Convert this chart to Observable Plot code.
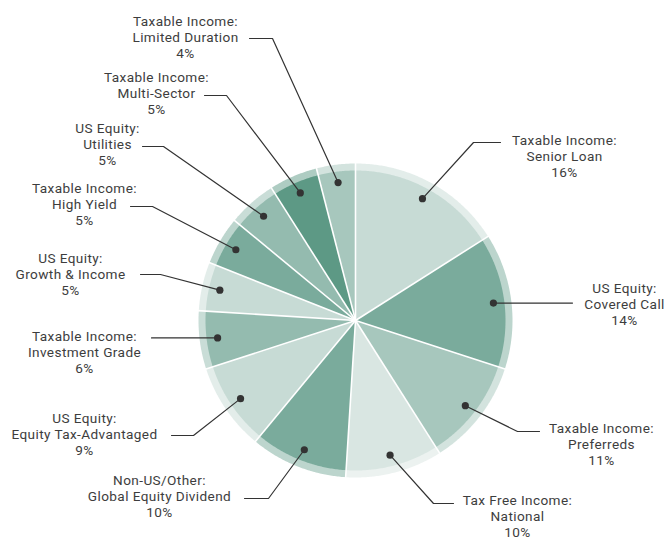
<!DOCTYPE html>
<html><head><meta charset="utf-8">
<script src="https://cdn.jsdelivr.net/npm/d3@7"></script>
<script src="https://cdn.jsdelivr.net/npm/@observablehq/plot@0.6"></script>
<style>html,body{margin:0;padding:0;background:#fff;} #chart svg{display:block}</style>
</head><body><div id="chart"></div>
<script>
// ---- data ----
const groups = ["Taxable Income:", "US Equity:", "Taxable Income:", "Tax Free Income:", "Non-US/Other:", "US Equity:",
  "Taxable Income:", "US Equity:", "Taxable Income:", "US Equity:", "Taxable Income:", "Taxable Income:"];
const names = ["Senior Loan", "Covered Call", "Preferreds", "National", "Global Equity Dividend", "Equity Tax-Advantaged",
  "Investment Grade", "Growth & Income", "High Yield", "Utilities", "Multi-Sector", "Limited Duration"];
const shares = [16, 14, 11, 10, 10, 9, 6, 5, 5, 5, 5, 4];

// ---- styles ----
const fills = ["#c7dbd5", "#7aab9c", "#a7c7bd", "#d9e6e2", "#7aab9c", "#c7dbd5",
  "#94bbaf", "#c7dbd5", "#7aab9c", "#94bbaf", "#5d9985", "#a7c7bd"];

// ---- layout (pixel space) ----
const W = 666, H = 540, cx = 355, cy = 320, rOuter = 157, rInner = 150, rDot = 139;
// text centre x, middle-line y, leader end x, elbow x (null = straight), leader y
const labelLayout = [
  {tx: 564, ty: 155, endX: 500, elbowX: 473, lineY: 142},
  {tx: 624, ty: 303, endX: 572, elbowX: null, lineY: null},
  {tx: 601, ty: 443, endX: 539, elbowX: 517, lineY: 431},
  {tx: 517, ty: 515, endX: 453, elbowX: 433, lineY: 503},
  {tx: 159, ty: 495, endX: 244, elbowX: 268, lineY: 498},
  {tx: 84,  ty: 433, endX: 171, elbowX: 193, lineY: 435},
  {tx: 84,  ty: 351, endX: 151, elbowX: null, lineY: null},
  {tx: 70,  ty: 273, endX: 140, elbowX: 160, lineY: 274},
  {tx: 84,  ty: 203, endX: 130, elbowX: 152, lineY: 206},
  {tx: 107, ty: 143, endX: 142, elbowX: 163, lineY: 146},
  {tx: 156, ty: 92,  endX: 204, elbowX: 226, lineY: 95},
  {tx: 185, ty: 36,  endX: 249, elbowX: 272, lineY: 38}
];

const total = d3.sum(shares);
const slices = [];
let acc = 0;
shares.forEach((v, i) => {
  const a0 = acc / total * 2 * Math.PI; acc += v;
  const a1 = acc / total * 2 * Math.PI;
  slices.push({i, a0, a1, mid: (a0 + a1) / 2});
});
const px = (a, r) => cx + r * Math.sin(a);
const py = (a, r) => cy - r * Math.cos(a);
function arcPts(s, r) {
  const pts = [{x: cx, y: cy}];
  const n = Math.max(2, Math.ceil((s.a1 - s.a0) / (Math.PI / 360)));
  for (let k = 0; k <= n; k++) {
    const a = s.a0 + (s.a1 - s.a0) * k / n;
    pts.push({x: px(a, r), y: py(a, r)});
  }
  return pts;
}
const dotX = s => px(s.mid, rDot), dotY = s => py(s.mid, rDot);

const leaders = [];
slices.forEach(s => {
  const L = labelLayout[s.i];
  const dx = dotX(s), dy = dotY(s);
  if (L.elbowX == null) {
    leaders.push({i: s.i, x: L.endX, y: dy}, {i: s.i, x: dx, y: dy});
  } else {
    leaders.push({i: s.i, x: L.endX, y: L.lineY}, {i: s.i, x: L.elbowX, y: L.lineY}, {i: s.i, x: dx, y: dy});
  }
});

const fs = 13.6;
const chart = Plot.plot({
  width: W, height: H, margin: 0,
  x: {domain: [0, W], range: [0, W], axis: null},
  y: {domain: [0, H], range: [0, H], axis: null},
  style: {fontFamily: "Roboto, sans-serif", background: "#fff", letterSpacing: "0.4px"},
  marks: [
    ...slices.map(s => Plot.line(arcPts(s, rOuter), {x: "x", y: "y", fill: fills[s.i], fillOpacity: 0.5, stroke: "none", curve: "linear-closed"})),
    ...slices.map(s => Plot.line(arcPts(s, rInner), {x: "x", y: "y", fill: fills[s.i], stroke: "none", curve: "linear-closed"})),
    Plot.link(slices, {x1: () => cx, y1: () => cy, x2: s => px(s.a0, rOuter + 1), y2: s => py(s.a0, rOuter + 1), stroke: "white", strokeWidth: 1.6}),
    Plot.line(leaders, {x: "x", y: "y", z: "i", stroke: "#333", strokeWidth: 1.2}),
    Plot.dot(slices, {x: dotX, y: dotY, r: 3.6, fill: "#333", stroke: "none"}),
    Plot.text(slices, {
      x: s => labelLayout[s.i].tx, y: s => labelLayout[s.i].ty,
      text: s => `${groups[s.i]}\n${names[s.i]}\n${shares[s.i]}%`,
      fontSize: fs, lineHeight: 16 / fs, fill: "#3d3d3d", textAnchor: "middle", lineAnchor: "middle"
    })
  ]
});
document.getElementById("chart").appendChild(chart);
</script>
</body></html>
